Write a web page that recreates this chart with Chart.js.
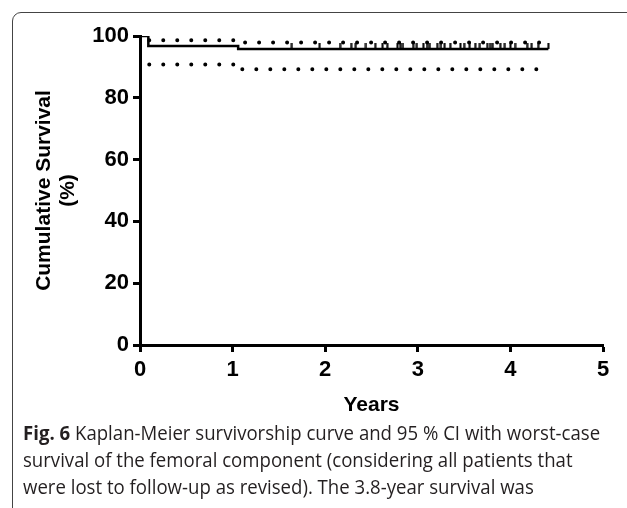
<!DOCTYPE html>
<html>
<head>
<meta charset="utf-8">
<script src="https://cdn.jsdelivr.net/npm/chart.js@4/dist/chart.umd.min.js"></script>
<style>
  html, body { margin: 0; padding: 0; background: #fff; overflow: hidden; }
  body { width: 627px; height: 508px; position: relative; }
  #frame { position: absolute; left: 12px; top: 12px; width: 700px; height: 600px;
           border: 1.5px solid #444; border-radius: 9px; box-sizing: border-box; }
  #c { position: absolute; left: 0; top: 0; }
  #caption { position: absolute; left: 23px; top: 419px; width: 700px;
             font-family: "Open Sans", sans-serif; font-size: 20px;
             line-height: 27px; color: #231f20; white-space: nowrap;
             transform: scaleX(0.93); transform-origin: 0 0; }
  #caption b { font-weight: bold; }
</style>
</head>
<body>
<div id="frame"></div>
<canvas id="c" width="627" height="420"></canvas>
<div id="caption"><b>Fig. 6</b> Kaplan-Meier survivorship curve and 95 % CI with worst-case<br>survival of the femoral component (considering all patients that<br>were lost to follow-up as revised). The 3.8-year survival was</div>
<script>
// ---- data ----
const kmYears    = [0, 0.09, 1.06, 4.41];
const kmSurvival = [100, 96.8, 95.8, 95.8];
const ciYears    = [0.1, 1.06, 4.41];
const ciUpper    = [98.6, 97.9, 97.9];
const ciLower    = [90.8, 89.2, 89.2];
const censorYears = [1.64, 1.94, 2.16, 2.28, 2.33, 2.44, 2.54, 2.62, 2.67, 2.78, 2.81, 2.84,
                     2.95, 2.99, 3.06, 3.10, 3.13, 3.21, 3.25, 3.29, 3.35, 3.46, 3.50, 3.56,
                     3.62, 3.67, 3.75, 3.78, 3.81, 3.89, 3.94, 4.00, 4.05, 4.18, 4.23, 4.30, 4.41];
const xTicks = [0, 1, 2, 3, 4, 5];
const yTicks = [0, 20, 40, 60, 80, 100];

// survival value (step function) at time t, read from the KM arrays
function survivalAt(t) {
  let v = kmSurvival[0];
  for (let i = 0; i < kmYears.length; i++) if (kmYears[i] <= t) v = kmSurvival[i];
  return v;
}
const pts = (xs, ys) => xs.map((x, i) => ({x: x, y: ys[i]}));

// censor tick mark image (upper half only)
const tick = document.createElement('canvas');
tick.width = 3; tick.height = 12;
const tctx = tick.getContext('2d');
tctx.fillStyle = '#000';
tctx.fillRect(0.5, 0, 2, 6);

const FONT = "'Liberation Sans', Arial, sans-serif";

new Chart(document.getElementById('c'), {
  type: 'line',
  data: {
    datasets: [
      { data: pts(kmYears, kmSurvival), stepped: 'before', borderColor: '#000', borderWidth: 2.5,
        pointRadius: 0, fill: false },
      { data: pts(ciYears, ciUpper), stepped: 'before', borderColor: '#000', borderWidth: 4,
        borderDash: [0, 14], borderCapStyle: 'round', pointRadius: 0, fill: false },
      { data: pts(ciYears, ciLower), stepped: 'before', borderColor: '#000', borderWidth: 4,
        borderDash: [0, 14], borderCapStyle: 'round', pointRadius: 0, fill: false },
      { type: 'scatter', data: censorYears.map(t => ({x: t, y: survivalAt(t)})),
        pointStyle: tick, pointRadius: 4, showLine: false }
    ]
  },
  options: {
    responsive: false,
    animation: false,
    devicePixelRatio: 1,
    layout: { padding: { left: 0, right: 24, top: 36, bottom: 0 } },
    plugins: { legend: { display: false }, tooltip: { enabled: false } },
    scales: {
      x: {
        type: 'linear', min: 0, max: 5,
        afterBuildTicks: s => { s.ticks = xTicks.map(v => ({value: v})); },
        afterFit: s => { s.height = 75; },
        border: { display: true, color: '#000', width: 3 },
        grid: { display: true, drawOnChartArea: false, drawTicks: true, tickLength: 7, tickWidth: 3, tickColor: '#000', color: '#000' },
        ticks: { color: '#000', padding: 5, font: { family: FONT, size: 22, weight: 'bold' } },
        title: { display: true, text: 'Years', color: '#000', padding: { top: 0, bottom: 3 },
                 font: { family: FONT, size: 21, weight: 'bold', lineHeight: 1.15 } }
      },
      y: {
        type: 'linear', min: 0, max: 100,
        afterBuildTicks: s => { s.ticks = yTicks.map(v => ({value: v})); },
        afterFit: s => { s.width = 140; },
        border: { display: true, color: '#000', width: 3 },
        grid: { display: true, drawOnChartArea: false, drawTicks: true, tickLength: 7, tickWidth: 3, tickColor: '#000', color: '#000' },
        ticks: { color: '#000', padding: 4, font: { family: FONT, size: 22, weight: 'bold' } },
        title: { display: true, text: ['Cumulative Survival', '(%)'], color: '#000', padding: { top: 32, bottom: 0 },
                 font: { family: FONT, size: 21, weight: 'bold', lineHeight: 1.15 } }
      }
    }
  }
});
</script>
</body>
</html>
